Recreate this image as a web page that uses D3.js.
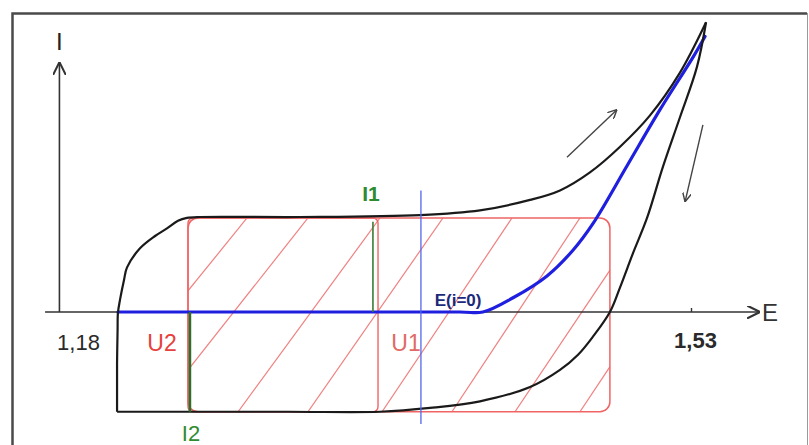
<!DOCTYPE html>
<html>
<head>
<meta charset="utf-8">
<script src="https://cdn.jsdelivr.net/npm/d3@7/dist/d3.min.js"></script>
<style>
  html, body { margin: 0; padding: 0; background: #fff; }
  svg { display: block; font-family: "Liberation Sans", Arial, sans-serif; }
</style>
</head>
<body>
<svg id="chart" width="809" height="445"></svg>
<script>
// ---- data (E in V, I in arbitrary units) ----
var tickValues = [1.18, 1.53];
var axisRangeE = [1.1612, 1.5694];
var axisTopI = 2.63;

// charging branch (black, going up)
var forwardBranch = [
  [1.2023, -1.05], [1.2023, -0.82], [1.2023, -0.54], [1.2026, -0.19],
  [1.2028, -0.01], [1.2040, 0.13], [1.2063, 0.34], [1.2080, 0.47],
  [1.2154, 0.67], [1.2240, 0.80], [1.2308, 0.88], [1.2371, 0.96],
  [1.2422, 0.99], [1.2497, 1.00], [1.3068, 1.00], [1.3753, 1.02],
  [1.4095, 1.07], [1.4381, 1.18], [1.4552, 1.28], [1.4723, 1.47],
  [1.4895, 1.74], [1.5066, 2.07], [1.5237, 2.52], [1.5386, 3.05]
];

// return branch (black, going down)
var returnBranch = [
  [1.5386, 3.05], [1.5334, 2.58], [1.5237, 2.05], [1.5140, 1.53],
  [1.5049, 0.99], [1.4969, 0.62], [1.4895, 0.26], [1.4837, 0.00],
  [1.4740, -0.26], [1.4655, -0.45], [1.4552, -0.61], [1.4381, -0.79],
  [1.4095, -0.94], [1.3810, -1.01], [1.3524, -1.05], [1.3000, -1.05],
  [1.2023, -1.05]
];

// faradaic current (blue)
var blueCurve = [
  [1.2028, 0], [1.3980, 0], [1.4112, 0], [1.4284, 0.15], [1.4478, 0.38],
  [1.4626, 0.65], [1.4740, 0.93], [1.4935, 1.54], [1.5123, 2.13],
  [1.5311, 2.68], [1.5380, 2.90]
];

// hatched capacitive area
var rectE = [1.2428, 1.4837];
var innerRectE = [1.2428, 1.3513];
var rectI = [-1.05, 0.99];
// each hatch line: E at the bottom edge, E at the top edge
var hatchBottomE = [1.1869, 1.2240, 1.2714, 1.3113, 1.3536, 1.3935, 1.4295, 1.4666];
var hatchTopE    = [1.2765, 1.3113, 1.3524, 1.3884, 1.4278, 1.4666, 1.5037, 1.5403];

// markers
var i1Line = { E: 1.3484, I: [0.95, 0] };
var i2Line = { E: 1.2439, I: [0, -1.05] };
var zeroLine = { E: 1.3758, I: [1.28, -1.18] };

// direction arrows [from, to]
var arrowUp = [[1.4592, 1.63], [1.4877, 2.13]];
var arrowDown = [[1.5368, 1.97], [1.5266, 1.16]];

// ---- drawing ----
var svg = d3.select('#chart');

var x = d3.scaleLinear().domain([1.18, 1.53]).range([78, 691]);
var y = d3.scaleLinear().domain([0, 1]).range([312, 217]);

var commaFmt = d3.formatLocale({ decimal: ',', thousands: ' ', grouping: [3], currency: ['', ''] }).format('.2f');

var defs = svg.append('defs');

function marker(id, w, h, color) {
  defs.append('marker')
    .attr('id', id)
    .attr('markerUnits', 'userSpaceOnUse')
    .attr('viewBox', '0 0 10 10')
    .attr('refX', 10).attr('refY', 5)
    .attr('markerWidth', w).attr('markerHeight', h)
    .attr('orient', 'auto')
    .append('path')
    .attr('d', 'M0,0 L10,5 L0,10')
    .attr('fill', 'none')
    .attr('stroke', color)
    .attr('stroke-width', 1.6);
}
marker('axisArrow', 13, 13, '#333');
marker('smallArrow', 9, 9, '#444');

// frame
svg.append('path')
  .attr('d', 'M12.5,460 L12.5,13.5 L807,13.5')
  .attr('fill', 'none')
  .attr('stroke', '#4a4a4a')
  .attr('stroke-width', 2.5);
svg.append('line')
  .attr('x1', 807.5).attr('y1', 13).attr('x2', 807.5).attr('y2', 445)
  .attr('stroke', '#9a9a9a').attr('stroke-width', 1);

// hatch, clipped to the rounded area
defs.append('clipPath').attr('id', 'areaClip')
  .append('rect')
  .attr('x', x(rectE[0])).attr('y', y(rectI[1]))
  .attr('width', x(rectE[1]) - x(rectE[0]))
  .attr('height', y(rectI[0]) - y(rectI[1]))
  .attr('rx', 10);

svg.append('g')
  .attr('clip-path', 'url(#areaClip)')
  .selectAll('line')
  .data(hatchBottomE)
  .enter().append('line')
  .attr('x1', function(d) { return x(d); })
  .attr('y1', y(rectI[0]))
  .attr('x2', function(d, i) { return x(hatchTopE[i]); })
  .attr('y2', y(rectI[1]))
  .attr('stroke', '#f08080')
  .attr('stroke-width', 1.2);

// rectangles
svg.append('rect')
  .attr('x', x(rectE[0])).attr('y', y(rectI[1]))
  .attr('width', x(rectE[1]) - x(rectE[0]))
  .attr('height', y(rectI[0]) - y(rectI[1]))
  .attr('rx', 10)
  .attr('fill', 'none')
  .attr('stroke', '#f06464')
  .attr('stroke-width', 1.5);
svg.append('rect')
  .attr('x', x(innerRectE[0])).attr('y', y(rectI[1]))
  .attr('width', x(innerRectE[1]) - x(innerRectE[0]))
  .attr('height', y(rectI[0]) - y(rectI[1]))
  .attr('rx', 5)
  .attr('fill', 'none')
  .attr('stroke', '#f06464')
  .attr('stroke-width', 1.4);

// axes
svg.append('line')
  .attr('x1', x(axisRangeE[0])).attr('y1', y(0))
  .attr('x2', x(axisRangeE[1])).attr('y2', y(0))
  .attr('stroke', '#333').attr('stroke-width', 1.6)
  .attr('marker-end', 'url(#axisArrow)');
svg.append('line')
  .attr('x1', x(1.1694)).attr('y1', y(0))
  .attr('x2', x(1.1694)).attr('y2', y(axisTopI))
  .attr('stroke', '#333').attr('stroke-width', 1.6)
  .attr('marker-end', 'url(#axisArrow)');

var xAxis = svg.append('g')
  .attr('transform', 'translate(0,' + y(0) + ')')
  .call(d3.axisBottom(x).tickValues(tickValues).tickSize(-4).tickFormat(commaFmt))
  .attr('font-size', 22)
  .attr('font-family', '"Liberation Sans", Arial, sans-serif');
xAxis.select('.domain').remove();
xAxis.selectAll('.tick line')
  .attr('stroke', '#333')
  .attr('stroke-width', 1.4)
  .style('display', function(d) { return d === 1.53 ? null : 'none'; });
xAxis.selectAll('.tick text')
  .attr('dy', null)
  .attr('y', function(d) { return d === 1.53 ? 36 : 38; })
  .attr('x', function(d) { return d === 1.53 ? 4 : 0; })
  .attr('fill', '#2a2a2a')
  .style('font-weight', function(d) { return d === 1.53 ? 'bold' : 'normal'; });

svg.append('text')
  .attr('x', x(1.1694)).attr('y', 50)
  .attr('text-anchor', 'middle')
  .attr('fill', '#222')
  .style('font-size', '24px')
  .text('I');
svg.append('text')
  .attr('x', x(axisRangeE[1]) + 2).attr('y', y(0) + 9)
  .attr('fill', '#333')
  .style('font-size', '24px')
  .text('E');

// curves
var line = d3.line()
  .x(function(d) { return x(d[0]); })
  .y(function(d) { return y(d[1]); })
  .curve(d3.curveCatmullRom.alpha(0.5));

svg.append('path')
  .datum(blueCurve)
  .attr('d', line)
  .attr('fill', 'none')
  .attr('stroke', '#1f1fe0')
  .attr('stroke-width', 3.2)
  .attr('stroke-linecap', 'round');

svg.append('path')
  .datum(forwardBranch)
  .attr('d', line)
  .attr('fill', 'none')
  .attr('stroke', '#1a1a1a')
  .attr('stroke-width', 2.2);

svg.append('path')
  .datum(returnBranch)
  .attr('d', line)
  .attr('fill', 'none')
  .attr('stroke', '#1a1a1a')
  .attr('stroke-width', 2.2);

// E(i=0) marker line
svg.append('line')
  .attr('x1', x(zeroLine.E)).attr('y1', y(zeroLine.I[0]))
  .attr('x2', x(zeroLine.E)).attr('y2', y(zeroLine.I[1]))
  .attr('stroke', '#5566ee').attr('stroke-width', 1.3);

// I1 / I2 lines
svg.append('line')
  .attr('x1', x(i1Line.E)).attr('y1', y(i1Line.I[0]))
  .attr('x2', x(i1Line.E)).attr('y2', y(i1Line.I[1]))
  .attr('stroke', '#3a7a34').attr('stroke-width', 1.6);
svg.append('line')
  .attr('x1', x(i2Line.E)).attr('y1', y(i2Line.I[0]))
  .attr('x2', x(i2Line.E)).attr('y2', y(i2Line.I[1]))
  .attr('stroke', '#2f6e2a').attr('stroke-width', 2.6);

// direction arrows
[arrowUp, arrowDown].forEach(function(a) {
  svg.append('line')
    .attr('x1', x(a[0][0])).attr('y1', y(a[0][1]))
    .attr('x2', x(a[1][0])).attr('y2', y(a[1][1]))
    .attr('stroke', '#444').attr('stroke-width', 1.4)
    .attr('marker-end', 'url(#smallArrow)');
});

// labels
function label(txt, E, I, color, size, weight) {
  svg.append('text')
    .attr('x', x(E)).attr('y', y(I))
    .attr('text-anchor', 'middle')
    .attr('fill', color)
    .style('font-size', size + 'px')
    .style('font-weight', weight || 'normal')
    .text(txt);
}
label('I1', 1.3473, 1.17, '#2e8b2e', 21, 'bold');
label('I2', 1.2445, -1.36, '#2e8b2e', 22, 'normal');
label('U2', 1.2280, -0.41, '#e8403c', 23, 'normal');
label('U1', 1.3673, -0.41, '#e06a66', 23, 'normal');
label('E(i=0)', 1.3970, 0.065, '#1c2a7a', 17, 'bold');
</script>
</body>
</html>
